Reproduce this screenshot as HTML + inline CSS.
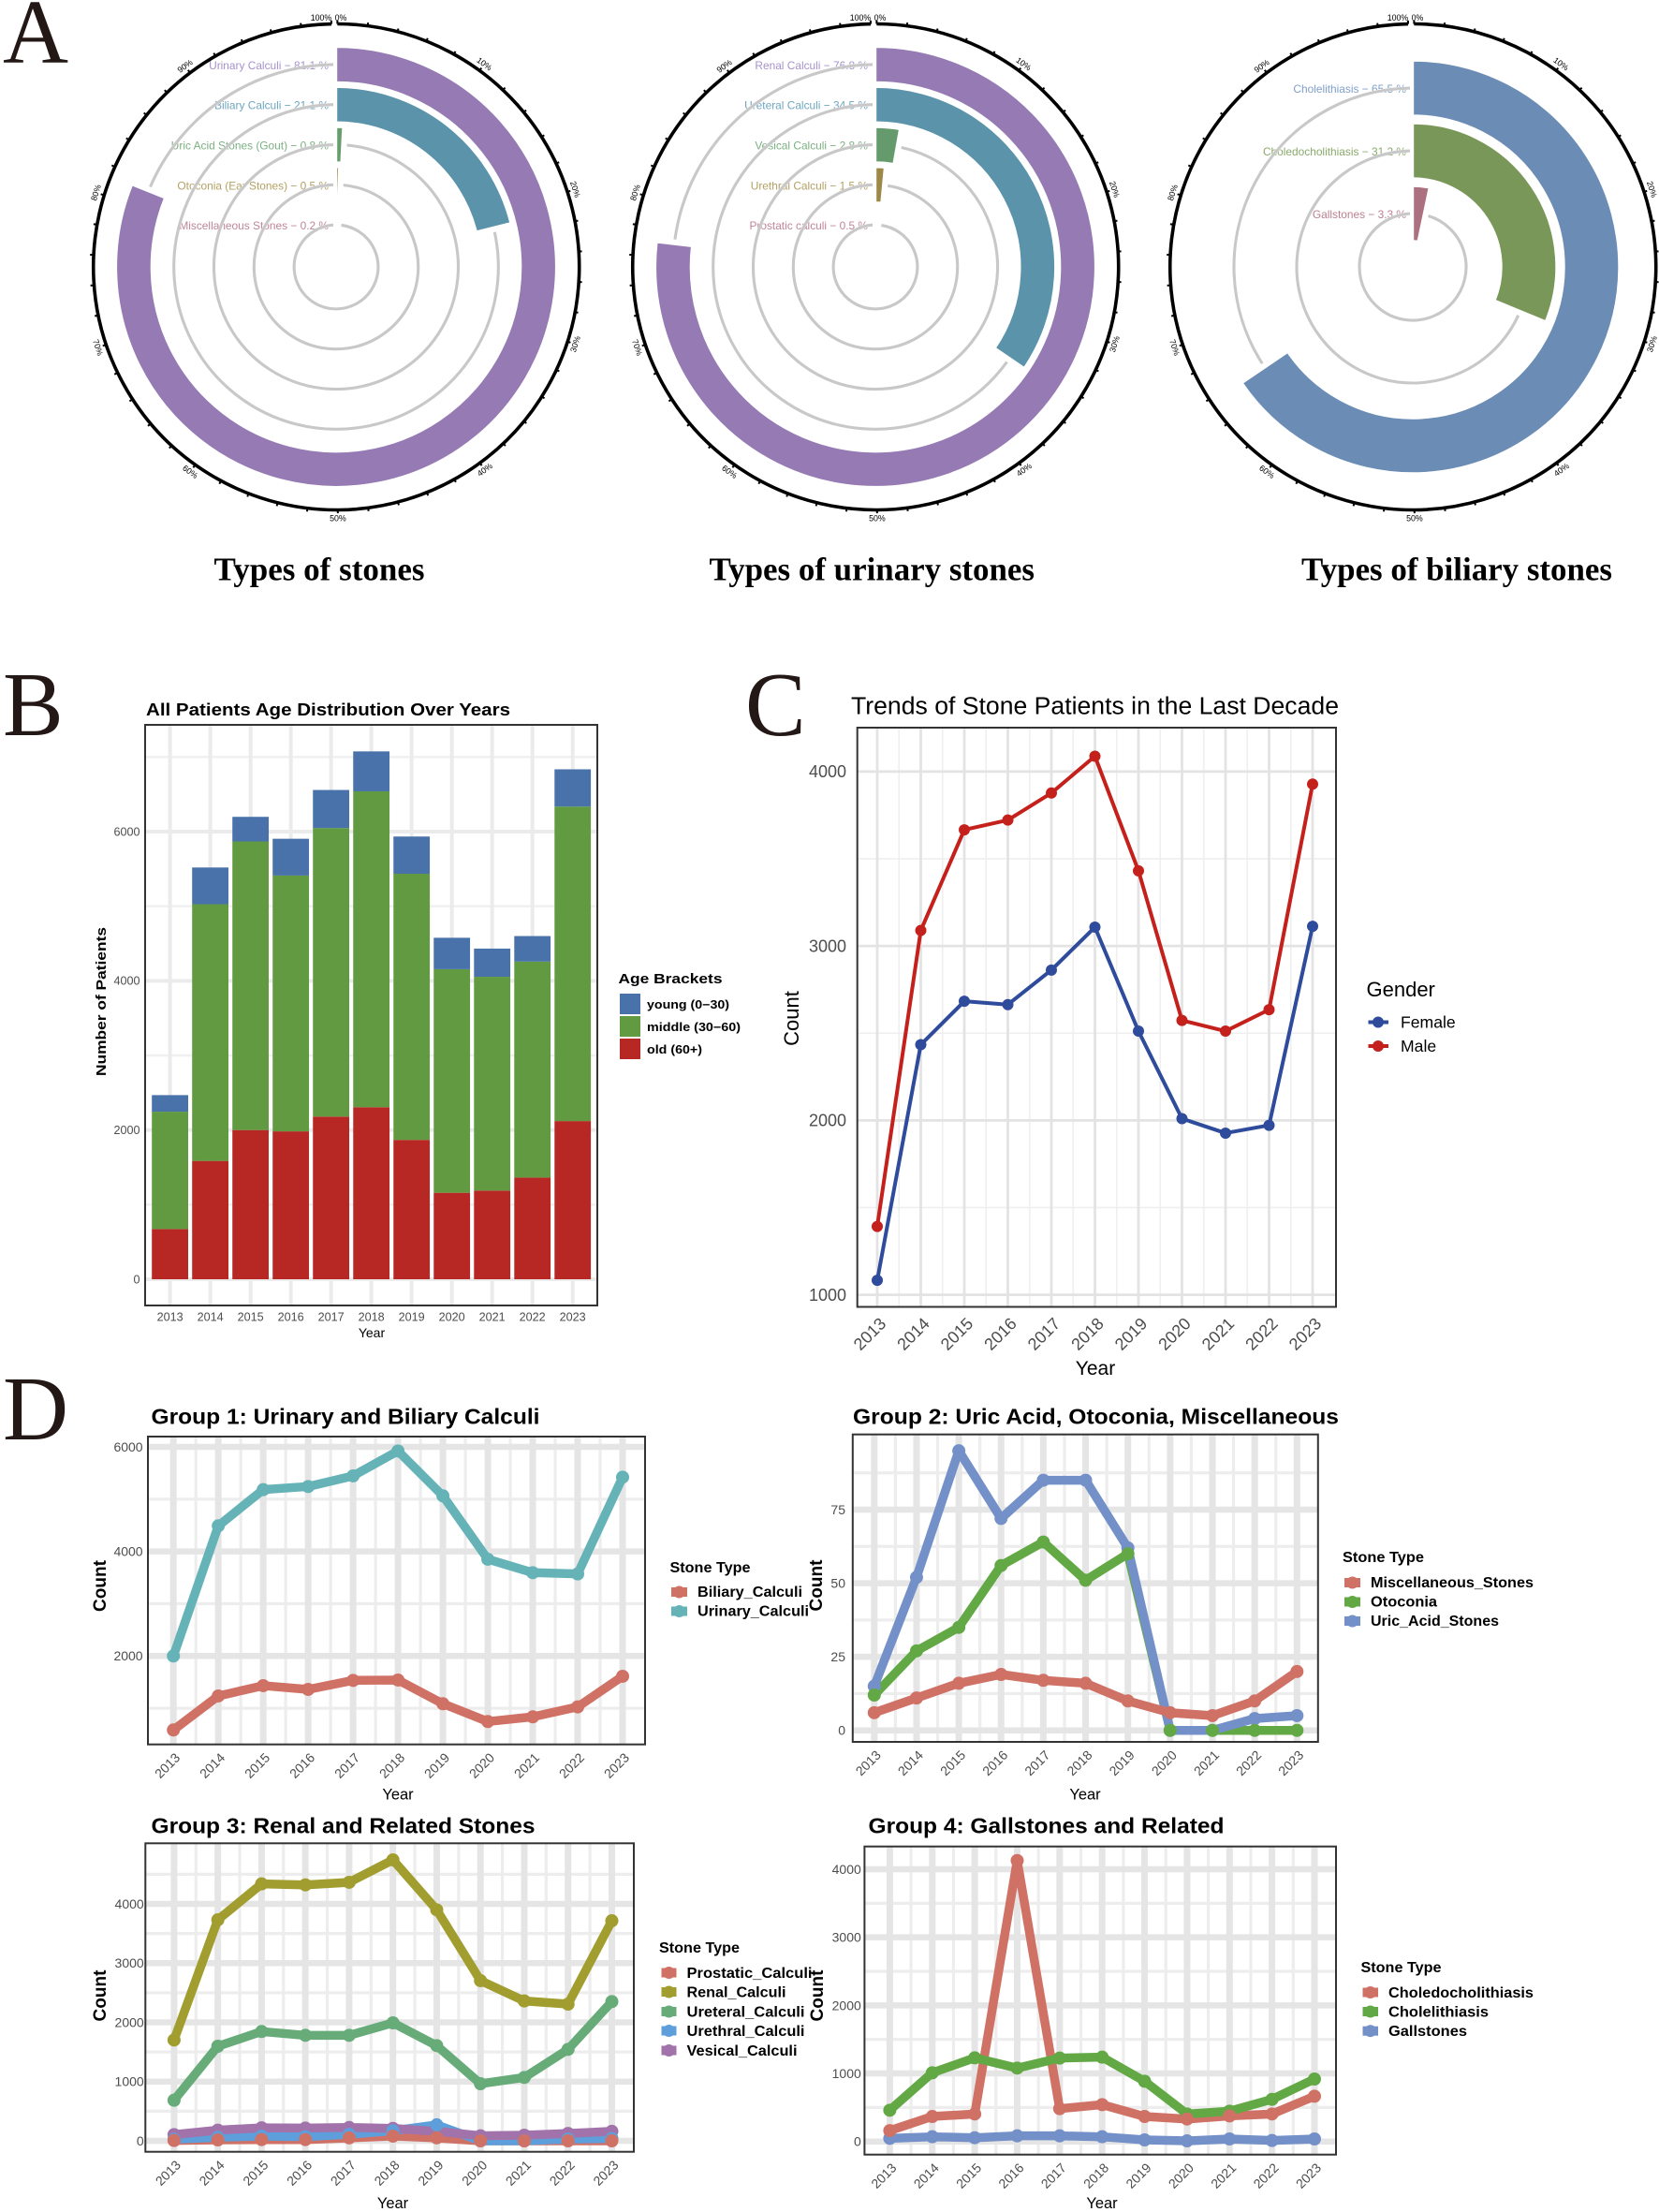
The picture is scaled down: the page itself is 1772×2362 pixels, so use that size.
<!DOCTYPE html>
<html lang="en">
<head>
<meta charset="utf-8">
<title>Stone patient statistics</title>
<style>
html,body{margin:0;padding:0;background:#fff;}
svg{display:block;}
text{font-family:"Liberation Sans",Arial,sans-serif;}
.letter{font-family:"Liberation Serif","Times New Roman",serif;font-size:97px;fill:#231815;}
.ptitle{font-family:"Liberation Serif","Times New Roman",serif;font-size:34.6px;font-weight:bold;fill:#000;text-anchor:start;}
.dtitle{font-size:23px;font-weight:bold;fill:#000;}
.dcount{font-size:19px;font-weight:bold;fill:#000;text-anchor:middle;}
.dyear{font-size:16.5px;fill:#000;text-anchor:middle;}
.dlegt{font-size:16px;font-weight:bold;fill:#000;}
.dleg{font-size:16px;font-weight:bold;fill:#000;}
</style>
</head>
<body>
<svg xmlns="http://www.w3.org/2000/svg" width="1772" height="2362" viewBox="0 0 1772 2362">
<rect x="0" y="0" width="1772" height="2362" fill="#fff"/>

<text class="letter" x="3" y="67">A</text>
<text class="letter" x="3" y="785">B</text>
<text class="letter" x="796" y="785">C</text>
<text class="letter" x="3" y="1537">D</text>

<g id="polar-1"></g>
<g id="polar-2"></g>
<g id="polar-3"></g>
<text class="ptitle" x="228.5" y="619.5" textLength="225" lengthAdjust="spacingAndGlyphs">Types of stones</text>
<text class="ptitle" x="757.5" y="619.5" textLength="347.5" lengthAdjust="spacingAndGlyphs">Types of urinary stones</text>
<text class="ptitle" x="1390" y="619.5" textLength="332" lengthAdjust="spacingAndGlyphs">Types of biliary stones</text>

<!-- Panel B -->
<g id="chart-b"></g>
<text x="156" y="764" font-size="18" font-weight="bold" fill="#000" textLength="389" lengthAdjust="spacingAndGlyphs">All Patients Age Distribution Over Years</text>
<text x="0" y="0" transform="translate(113 1069.5) rotate(-90)" font-size="14.5" font-weight="bold" fill="#000" text-anchor="middle" textLength="159" lengthAdjust="spacingAndGlyphs">Number of Patients</text>
<text x="397" y="1428" font-size="14" fill="#000" text-anchor="middle">Year</text>
<g>
  <text x="660.5" y="1050" font-size="15" font-weight="bold" fill="#000" textLength="111" lengthAdjust="spacingAndGlyphs">Age Brackets</text>
  <g><rect x="662" y="1061" width="22" height="22" fill="#4872a9"/><text x="691" y="1077" font-size="12.5" font-weight="bold" fill="#000" textLength="88" lengthAdjust="spacingAndGlyphs">young (0−30)</text></g>
  <g><rect x="662" y="1085" width="22" height="22" fill="#629a41"/><text x="691" y="1101" font-size="12.5" font-weight="bold" fill="#000" textLength="100" lengthAdjust="spacingAndGlyphs">middle (30−60)</text></g>
  <g><rect x="662" y="1109" width="22" height="22" fill="#b72825"/><text x="691" y="1125" font-size="12.5" font-weight="bold" fill="#000" textLength="59" lengthAdjust="spacingAndGlyphs">old (60+)</text></g>
</g>

<!-- Panel C -->
<g id="chart-c"></g>
<text x="909" y="762.5" font-size="25.5" fill="#000" textLength="521" lengthAdjust="spacingAndGlyphs">Trends of Stone Patients in the Last Decade</text>
<text x="0" y="0" transform="translate(853 1087.5) rotate(-90)" font-size="22" fill="#000" text-anchor="middle">Count</text>
<text x="1170" y="1468" font-size="21" fill="#000" text-anchor="middle">Year</text>
<g>
  <text x="1459.5" y="1064" font-size="22" fill="#000">Gender</text>
  <g><line x1="1461.5" x2="1483" y1="1091.5" y2="1091.5" stroke="#2f4b9b" stroke-width="4"/><circle cx="1472" cy="1091.5" r="6" fill="#2f4b9b"/><text x="1496" y="1097.5" font-size="17.6" fill="#000">Female</text></g>
  <g><line x1="1461.5" x2="1483" y1="1117" y2="1117" stroke="#c4211c" stroke-width="4"/><circle cx="1472" cy="1117" r="6" fill="#c4211c"/><text x="1496" y="1123" font-size="17.6" fill="#000">Male</text></g>
</g>

<!-- Panel D1 -->
<g id="chart-d1"></g>
<text class="dtitle" x="161.5" y="1520.5" textLength="415" lengthAdjust="spacingAndGlyphs">Group 1: Urinary and Biliary Calculi</text>
<text class="dcount" x="0" y="0" transform="translate(113 1693.5) rotate(-90)">Count</text>
<text class="dyear" x="425" y="1921.5">Year</text>
<g>
  <text class="dlegt" x="715.5" y="1679" textLength="86" lengthAdjust="spacingAndGlyphs">Stone Type</text>
  <g><rect x="717" y="1695" width="17" height="10" fill="#d07166"/><circle cx="725.5" cy="1700" r="6.5" fill="#d07166"/><text class="dleg" x="745" y="1705" textLength="112" lengthAdjust="spacingAndGlyphs">Biliary_Calculi</text></g>
  <g><rect x="717" y="1715.5" width="17" height="10" fill="#66b3b7"/><circle cx="725.5" cy="1720.5" r="6.5" fill="#66b3b7"/><text class="dleg" x="745" y="1725.5" textLength="119" lengthAdjust="spacingAndGlyphs">Urinary_Calculi</text></g>
</g>

<!-- Panel D2 -->
<g id="chart-d2"></g>
<text class="dtitle" x="911" y="1520.5" textLength="519" lengthAdjust="spacingAndGlyphs">Group 2: Uric Acid, Otoconia, Miscellaneous</text>
<text class="dcount" x="0" y="0" transform="translate(878 1693) rotate(-90)">Count</text>
<text class="dyear" x="1159" y="1921.5">Year</text>
<g>
  <text class="dlegt" x="1434" y="1668" textLength="87" lengthAdjust="spacingAndGlyphs">Stone Type</text>
  <g><rect x="1436" y="1685" width="17" height="10" fill="#d07166"/><circle cx="1444.5" cy="1690" r="6.5" fill="#d07166"/><text class="dleg" x="1464" y="1695" textLength="174" lengthAdjust="spacingAndGlyphs">Miscellaneous_Stones</text></g>
  <g><rect x="1436" y="1705.5" width="17" height="10" fill="#62a945"/><circle cx="1444.5" cy="1710.5" r="6.5" fill="#62a945"/><text class="dleg" x="1464" y="1715.5" textLength="71" lengthAdjust="spacingAndGlyphs">Otoconia</text></g>
  <g><rect x="1436" y="1726" width="17" height="10" fill="#7490c8"/><circle cx="1444.5" cy="1731" r="6.5" fill="#7490c8"/><text class="dleg" x="1464" y="1736" textLength="137" lengthAdjust="spacingAndGlyphs">Uric_Acid_Stones</text></g>
</g>

<!-- Panel D3 -->
<g id="chart-d3"></g>
<text class="dtitle" x="161.5" y="1957.5" textLength="410" lengthAdjust="spacingAndGlyphs">Group 3: Renal and Related Stones</text>
<text class="dcount" x="0" y="0" transform="translate(113 2131) rotate(-90)">Count</text>
<text class="dyear" x="419.5" y="2358">Year</text>
<g>
  <text class="dlegt" x="704" y="2085" textLength="86" lengthAdjust="spacingAndGlyphs">Stone Type</text>
  <g><rect x="706.5" y="2101.5" width="16" height="10" fill="#d07166"/><circle cx="714.5" cy="2106.5" r="6.5" fill="#d07166"/><text class="dleg" x="733.5" y="2112" textLength="134" lengthAdjust="spacingAndGlyphs">Prostatic_Calculi</text></g>
  <g><rect x="706.5" y="2122" width="16" height="10" fill="#a19d2f"/><circle cx="714.5" cy="2127" r="6.5" fill="#a19d2f"/><text class="dleg" x="733.5" y="2132.5" textLength="106" lengthAdjust="spacingAndGlyphs">Renal_Calculi</text></g>
  <g><rect x="706.5" y="2143" width="16" height="10" fill="#66ab78"/><circle cx="714.5" cy="2148" r="6.5" fill="#66ab78"/><text class="dleg" x="733.5" y="2153.5" textLength="126" lengthAdjust="spacingAndGlyphs">Ureteral_Calculi</text></g>
  <g><rect x="706.5" y="2163.5" width="16" height="10" fill="#5e9fdb"/><circle cx="714.5" cy="2168.5" r="6.5" fill="#5e9fdb"/><text class="dleg" x="733.5" y="2174" textLength="126" lengthAdjust="spacingAndGlyphs">Urethral_Calculi</text></g>
  <g><rect x="706.5" y="2184.5" width="16" height="10" fill="#a272ab"/><circle cx="714.5" cy="2189.5" r="6.5" fill="#a272ab"/><text class="dleg" x="733.5" y="2195" textLength="118" lengthAdjust="spacingAndGlyphs">Vesical_Calculi</text></g>
</g>

<!-- Panel D4 -->
<g id="chart-d4"></g>
<text class="dtitle" x="927.5" y="1957.5" textLength="380" lengthAdjust="spacingAndGlyphs">Group 4: Gallstones and Related</text>
<text class="dcount" x="0" y="0" transform="translate(879 2131) rotate(-90)">Count</text>
<text class="dyear" x="1177" y="2358">Year</text>
<g>
  <text class="dlegt" x="1453.5" y="2106" textLength="86" lengthAdjust="spacingAndGlyphs">Stone Type</text>
  <g><rect x="1455.5" y="2122.5" width="16.5" height="10" fill="#d07166"/><circle cx="1463.7" cy="2127.5" r="6.5" fill="#d07166"/><text class="dleg" x="1483" y="2133" textLength="155" lengthAdjust="spacingAndGlyphs">Choledocholithiasis</text></g>
  <g><rect x="1455.5" y="2143" width="16.5" height="10" fill="#62a945"/><circle cx="1463.7" cy="2148" r="6.5" fill="#62a945"/><text class="dleg" x="1483" y="2153.5" textLength="107" lengthAdjust="spacingAndGlyphs">Cholelithiasis</text></g>
  <g><rect x="1455.5" y="2163.7" width="16.5" height="10" fill="#7490c8"/><circle cx="1463.7" cy="2168.7" r="6.5" fill="#7490c8"/><text class="dleg" x="1483" y="2174" textLength="84" lengthAdjust="spacingAndGlyphs">Gallstones</text></g>
</g>
</svg>

<script>
/* ---------- data ---------- */
const years = [2013, 2014, 2015, 2016, 2017, 2018, 2019, 2020, 2021, 2022, 2023];

const stoneNames = ["Urinary Calculi", "Biliary Calculi", "Uric Acid Stones (Gout)", "Otoconia (Ear Stones)", "Miscellaneous Stones"];
const stonePercents = [81.1, 21.1, 0.8, 0.5, 0.2];
const urinaryNames = ["Renal Calculi", "Ureteral Calculi", "Vesical Calculi", "Urethral Calculi", "Prostatic calculi"];
const urinaryPercents = [76.8, 34.5, 2.8, 1.5, 0.5];
const biliaryNames = ["Cholelithiasis", "Choledocholithiasis", "Gallstones"];
const biliaryPercents = [65.5, 31.2, 3.3];
const percentTicks = [0, 10, 20, 30, 40, 50, 60, 70, 80, 90, 100];

const ageOld = [673, 1586, 2000, 1982, 2180, 2306, 1868, 1159, 1189, 1363, 2120];
const ageMiddle = [1573, 3441, 3868, 3429, 3868, 4234, 3567, 2997, 2865, 2895, 4216];
const ageYoung = [222, 492, 330, 493, 510, 535, 499, 421, 378, 342, 499];
const bYTicks = [0, 2000, 4000, 6000];
const bYMinor = [1000, 3000, 5000, 7000];

const genderFemale = [1083, 2434, 2683, 2664, 2862, 3108, 2512, 2010, 1927, 1972, 3113];
const genderMale = [1392, 3089, 3666, 3722, 3877, 4088, 3431, 2573, 2512, 2635, 3928];
const cYTicks = [1000, 2000, 3000, 4000];
const cYMinor = [1500, 2500, 3500];

const biliaryCalculi = [585, 1236, 1433, 1361, 1534, 1540, 1087, 746, 836, 1027, 1612];
const urinaryCalculi = [2000, 4490, 5182, 5242, 5445, 5922, 5063, 3851, 3594, 3570, 5421];
const d1YTicks = [2000, 4000, 6000];
const d1YMinor = [1000, 3000, 5000];

const miscStones = [6, 11, 16, 19, 17, 16, 10, 6, 5, 10, 20];
const otoconia = [12, 27, 35, 56, 64, 51, 60, 0, 0, 0, 0];
const uricAcidStones = [15, 52, 95, 72, 85, 85, 62, 0, 0, 4, 5];
const d2YTicks = [0, 25, 50, 75];
const d2YMinor = [12.5, 37.5, 62.5, 87.5];

const prostaticCalculi = [5, 15, 20, 20, 50, 80, 50, 0, 0, 0, 0];
const renalCalculi = [1702, 3731, 4337, 4321, 4364, 4743, 3900, 2704, 2361, 2308, 3715];
const ureteralCalculi = [685, 1597, 1845, 1781, 1781, 1992, 1607, 964, 1070, 1544, 2350];
const urethralCalculi = [25, 60, 80, 70, 110, 170, 270, 0, 0, 30, 40];
const vesicalCalculi = [105, 180, 220, 215, 225, 210, 160, 85, 95, 125, 160];
const d3YTicks = [0, 1000, 2000, 3000, 4000];
const d3YMinor = [500, 1500, 2500, 3500, 4500];

const choledocholithiasis = [160, 367, 404, 4128, 482, 541, 367, 330, 376, 404, 665];
const cholelithiasis = [459, 1009, 1229, 1078, 1225, 1239, 885, 404, 445, 619, 917];
const gallstones = [46, 69, 55, 83, 83, 69, 23, 9, 37, 14, 37];
const d4YTicks = [0, 1000, 2000, 3000, 4000];
const d4YMinor = [500, 1500, 2500, 3500];

/* ---------- helpers ---------- */
const NS = "http://www.w3.org/2000/svg";
function mk(parent, tag, name, attrs, text) {
  const el = document.createElementNS(NS, tag);
  
  
  for (const k in attrs) el.setAttribute(k, attrs[k]);
  if (text !== undefined) el.textContent = text;
  parent.appendChild(el);
  return el;
}
function linearScale(d0, d1, r0, r1) {
  return function (v) { return r0 + (v - d0) / (d1 - d0) * (r1 - r0); };
}
function polarPoint(cx, cy, r, deg) {
  const a = deg * Math.PI / 180;
  return [cx + r * Math.sin(a), cy - r * Math.cos(a)];
}
function arcPath(cx, cy, r, a0, a1) {
  const p = polarPoint(cx, cy, r, a0), q = polarPoint(cx, cy, r, a1);
  const large = (a1 - a0) > 180 ? 1 : 0;
  return "M" + p[0].toFixed(2) + " " + p[1].toFixed(2) + "A" + r + " " + r + " 0 " + large + " 1 " + q[0].toFixed(2) + " " + q[1].toFixed(2);
}
function sectorPath(cx, cy, r0, r1, a1) {
  const a = polarPoint(cx, cy, r1, 0), b = polarPoint(cx, cy, r1, a1), c = polarPoint(cx, cy, r0, a1), d = polarPoint(cx, cy, r0, 0);
  const large = a1 > 180 ? 1 : 0;
  return "M" + a[0].toFixed(2) + " " + a[1].toFixed(2) + "A" + r1 + " " + r1 + " 0 " + large + " 1 " + b[0].toFixed(2) + " " + b[1].toFixed(2) +
    "L" + c[0].toFixed(2) + " " + c[1].toFixed(2) + "A" + r0 + " " + r0 + " 0 " + large + " 0 " + d[0].toFixed(2) + " " + d[1].toFixed(2) + "Z";
}

/* ---------- radial bars ---------- */
function drawRadial(id, opt, names, values) {
  const g = document.getElementById(id);
  const cx = opt.cx, cy = opt.cy, R = 259.5;
  const n = values.length;
  const angle = linearScale(0, 100, 0, 360);
  const radius = function (i) { return opt.r0 + opt.step * (n - 1 - i); };
  values.forEach(function (v, i) {
    mk(g, "text", "bar-label", {x: opt.labelX, y: radius(i) * -1 + cy + 5, "font-size": 11.9, "text-anchor": "end", fill: opt.text[i]}, names[i] + " \u2212 " + v.toFixed(1) + " %");
  });
  values.forEach(function (v, i) {
    const r = radius(i);
    const startA = angle(v) + 5 / r * 180 / Math.PI;
    const endA = 360 - 3 / r * 180 / Math.PI;
    mk(g, "path", "track-ring-casing", {d: arcPath(cx, cy, r, startA, endA), fill: "none", stroke: "#fff", "stroke-width": 3.6});
    mk(g, "path", "track-ring", {d: arcPath(cx, cy, r, startA, endA), fill: "none", stroke: "#c8c8c8", "stroke-width": 3.1});
  });
  values.forEach(function (v, i) {
    const r = radius(i);
    mk(g, "path", "radial-bar", {d: sectorPath(cx, cy, r - opt.half, r + opt.half, angle(v)), fill: opt.colors[i], stroke: "#fff", "stroke-width": 2.4});
  });
  const axisAngle = linearScale(0, 100, 0.3, 358.9);
  mk(g, "path", "outer-axis-ring", {d: arcPath(cx, cy, R, axisAngle(0), axisAngle(100)), fill: "none", stroke: "#000", "stroke-width": 3.6});
  for (let p = 0; p <= 100; p += 2) {
    const a = polarPoint(cx, cy, R, axisAngle(p)), b = polarPoint(cx, cy, R + 3.6, axisAngle(p));
    mk(g, "line", "axis-tick", {x1: a[0], y1: a[1], x2: b[0], y2: b[1], stroke: "#000", "stroke-width": 2});
  }
  percentTicks.forEach(function (p) {
    if (p === 0) {
      mk(g, "text", "axis-tick-label", {x: cx + 5, y: cy - R - 3.5, "font-size": 8.8, "text-anchor": "middle", fill: "#000"}, "0%");
    } else if (p === 100) {
      mk(g, "text", "axis-tick-label", {x: cx - 16, y: cy - R - 3.5, "font-size": 8.8, "text-anchor": "middle", fill: "#000"}, "100%");
    } else {
      const pos = polarPoint(cx, cy, R + 9, axisAngle(p));
      let rot = p * 3.6;
      if (rot > 270) rot -= 360; else if (rot > 90) rot -= 180;
      mk(g, "text", "axis-tick-label", {x: 0, y: 3, transform: "translate(" + pos[0].toFixed(1) + " " + pos[1].toFixed(1) + ") rotate(" + rot + ")", "font-size": 8.8, "text-anchor": "middle", fill: "#000"}, p + "%");
    }
  });
}
drawRadial("polar-1", {cx: 359, cy: 285, r0: 44.9, step: 42.8, half: 19, labelX: 351,
  colors: ["#957ab3", "#5a93aa", "#659e6c", "#a08c4b", "#b06f83"],
  text: ["#a692cc", "#6fa6bf", "#7bb182", "#b3a164", "#c08598"]}, stoneNames, stonePercents);
drawRadial("polar-2", {cx: 935, cy: 285, r0: 44.9, step: 42.8, half: 19, labelX: 927,
  colors: ["#957ab3", "#5a93aa", "#659a6c", "#9d8848", "#b06f83"],
  text: ["#a692cc", "#6fa6bf", "#7bb182", "#b3a164", "#c08598"]}, urinaryNames, urinaryPercents);
drawRadial("polar-3", {cx: 1509, cy: 285, r0: 57, step: 67, half: 29.5, labelX: 1502,
  colors: ["#6b8cb5", "#789758", "#ab7180"],
  text: ["#7f9fcb", "#8ba96c", "#bb7f90"]}, biliaryNames, biliaryPercents);

/* ---------- shared cartesian parts ---------- */
function drawFrame(g, panel, x, y, opt) {
  mk(g, "rect", "panel-background", {x: panel.x0, y: panel.y0, width: panel.x1 - panel.x0, height: panel.y1 - panel.y0, fill: "#fff"});
  opt.yMinor.forEach(function (v) {
    mk(g, "line", "grid-minor-h", {x1: panel.x0, x2: panel.x1, y1: y(v), y2: y(v), stroke: opt.minorColor, "stroke-width": opt.minorW});
  });
  if (opt.xMinorW) {
    years.slice(1).forEach(function (yr) {
      mk(g, "line", "grid-minor-v", {x1: x(yr - 0.5), x2: x(yr - 0.5), y1: panel.y0, y2: panel.y1, stroke: opt.minorColor, "stroke-width": opt.xMinorW});
    });
  }
  opt.yTicks.forEach(function (v) {
    mk(g, "line", "grid-major-h", {x1: panel.x0, x2: panel.x1, y1: y(v), y2: y(v), stroke: opt.majorColor, "stroke-width": opt.majorW});
    mk(g, "text", "y-tick-label", {x: opt.yTickX, y: y(v) + opt.tickSize * 0.35, "font-size": opt.tickSize, "text-anchor": "end", fill: "#4d4d4d"}, String(v));
  });
  years.forEach(function (yr) {
    mk(g, "line", "grid-major-v", {x1: x(yr), x2: x(yr), y1: panel.y0, y2: panel.y1, stroke: opt.majorColor, "stroke-width": opt.xMajorW});
    if (opt.xFlat) {
      mk(g, "text", "x-tick-label", {x: x(yr), y: opt.xFlat, "font-size": opt.tickSize, "text-anchor": "middle", fill: "#4d4d4d"}, String(yr));
    } else {
      const tx = x(yr) + opt.xOff, ty = panel.y1 + opt.yOff;
      mk(g, "text", "x-tick-label", {x: tx, y: ty, transform: "rotate(-45 " + tx + " " + ty + ")", "font-size": opt.tickSize, "text-anchor": "end", fill: "#4d4d4d"}, String(yr));
    }
  });
}
function drawBorder(g, panel) {
  mk(g, "rect", "panel-border", {x: panel.x0, y: panel.y0, width: panel.x1 - panel.x0, height: panel.y1 - panel.y0, fill: "none", stroke: "#333", "stroke-width": 2});
}
function drawSeries(g, x, y, lines, pointOrder, lw, pr) {
  lines.forEach(function (s) {
    const pts = s.values.map(function (v, i) { return x(years[i]).toFixed(2) + "," + y(v).toFixed(2); }).join(" ");
    mk(g, "polyline", "series-line-" + s.key, {points: pts, fill: "none", stroke: s.color, "stroke-width": lw, "stroke-linejoin": "round"});
  });
  pointOrder.forEach(function (s) {
    s.values.forEach(function (v, i) {
      mk(g, "circle", "series-point-" + s.key, {cx: x(years[i]), cy: y(v), r: pr, fill: s.color});
    });
  });
}

/* ---------- Panel B: stacked bars ---------- */
(function () {
  const g = document.getElementById("chart-b");
  const panel = {x0: 155, x1: 638, y0: 774, y1: 1394};
  const x = linearScale(2013, 2023, 181.6, 611.7);
  const y = linearScale(0, 6000, 1366, 888);
  drawFrame(g, panel, x, y, {yTicks: bYTicks, yMinor: bYMinor, majorColor: "#ebebeb", minorColor: "#f0f0f0", majorW: 4, minorW: 2.5, xMajorW: 4, tickSize: 12.6, yTickX: 149.5, xFlat: 1410.5});
  const bw = 38.8;
  years.forEach(function (yr, i) {
    const a = ageOld[i], b = a + ageMiddle[i], c = b + ageYoung[i];
    mk(g, "rect", "bar-old-" + yr, {x: x(yr) - bw / 2, y: y(a), width: bw, height: y(0) - y(a), fill: "#b72825"});
    mk(g, "rect", "bar-middle-" + yr, {x: x(yr) - bw / 2, y: y(b), width: bw, height: y(a) - y(b), fill: "#629a41"});
    mk(g, "rect", "bar-young-" + yr, {x: x(yr) - bw / 2, y: y(c), width: bw, height: y(b) - y(c), fill: "#4872a9"});
  });
  drawBorder(g, panel);
})();

/* ---------- Panel C ---------- */
(function () {
  const g = document.getElementById("chart-c");
  const panel = {x0: 915.7, x1: 1427, y0: 777, y1: 1395.5};
  const x = linearScale(2013, 2023, 937, 1402);
  const y = linearScale(1000, 4000, 1382.6, 823.9);
  drawFrame(g, panel, x, y, {yTicks: cYTicks, yMinor: cYMinor, majorColor: "#e3e3e3", minorColor: "#efefef", majorW: 2.8, minorW: 1.6, xMajorW: 2.8, xMinorW: 1.6, tickSize: 18, yTickX: 904, xOff: 10.5, yOff: 19});
  const series = [{key: "female", values: genderFemale, color: "#2f4b9b"}, {key: "male", values: genderMale, color: "#c4211c"}];
  drawSeries(g, x, y, series, series, 4, 6);
  drawBorder(g, panel);
})();

/* ---------- Panel D charts ---------- */
function drawGroup(id, panel, x, y, yTicks, yMinor, yTickX, lines, pointOrder) {
  const g = document.getElementById(id);
  drawFrame(g, panel, x, y, {yTicks: yTicks, yMinor: yMinor, majorColor: "#e5e5e5", minorColor: "#ededed", majorW: 6.5, minorW: 3.2, xMajorW: 7, xMinorW: 3.2, tickSize: 14, yTickX: yTickX, xOff: 8, yOff: 15});
  drawSeries(g, x, y, lines, pointOrder, 9.5, 7);
  drawBorder(g, panel);
}
(function () {
  const s = [{key: "biliary", values: biliaryCalculi, color: "#d07166"}, {key: "urinary", values: urinaryCalculi, color: "#66b3b7"}];
  drawGroup("chart-d1", {x0: 158, x1: 689, y0: 1534, y1: 1862.7},
    linearScale(2013, 2023, 185.2, 665), linearScale(2000, 6000, 1768.3, 1545),
    d1YTicks, d1YMinor, 152.6, s, s);
})();
(function () {
  const misc = {key: "miscellaneous", values: miscStones, color: "#d07166"};
  const oto = {key: "otoconia", values: otoconia, color: "#62a945"};
  const uric = {key: "uric-acid", values: uricAcidStones, color: "#7490c8"};
  drawGroup("chart-d2", {x0: 910.8, x1: 1407.8, y0: 1531.7, y1: 1860},
    linearScale(2013, 2023, 933.8, 1385.3), linearScale(0, 75, 1847.7, 1612),
    d2YTicks, d2YMinor, 903, [oto, uric, misc], [uric, oto, misc]);
})();
(function () {
  const pro = {key: "prostatic", values: prostaticCalculi, color: "#d07166"};
  const ren = {key: "renal", values: renalCalculi, color: "#a19d2f"};
  const ure = {key: "ureteral", values: ureteralCalculi, color: "#66ab78"};
  const uth = {key: "urethral", values: urethralCalculi, color: "#5e9fdb"};
  const ves = {key: "vesical", values: vesicalCalculi, color: "#a272ab"};
  drawGroup("chart-d3", {x0: 155.3, x1: 677, y0: 1968.3, y1: 2297.7},
    linearScale(2013, 2023, 185.9, 653.5), linearScale(0, 4000, 2286, 2033),
    d3YTicks, d3YMinor, 153.7, [pro, ren, ure, uth, ves], [ren, ure, ves, uth, pro]);
})();
(function () {
  const cd = {key: "choledocholithiasis", values: choledocholithiasis, color: "#d07166"};
  const cl = {key: "cholelithiasis", values: cholelithiasis, color: "#62a945"};
  const ga = {key: "gallstones", values: gallstones, color: "#7490c8"};
  drawGroup("chart-d4", {x0: 923.4, x1: 1427, y0: 1971.7, y1: 2300.7},
    linearScale(2013, 2023, 950.4, 1404), linearScale(0, 4000, 2286.7, 1996),
    d4YTicks, d4YMinor, 919.8, [cd, cl, ga], [ga, cl, cd]);
})();
</script>
</body>
</html>
